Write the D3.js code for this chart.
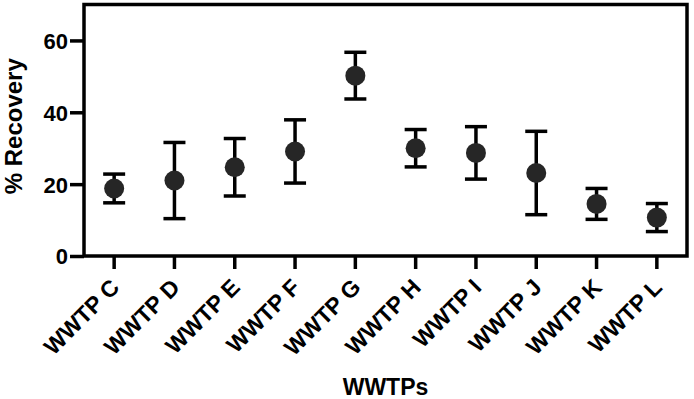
<!DOCTYPE html>
<html>
<head>
<meta charset="utf-8">
<script src="https://cdn.jsdelivr.net/npm/d3@7"></script>
<style>
  body { margin: 0; background: #fff; }
  svg { display: block; font-family: "Liberation Sans", Arial, sans-serif; font-weight: bold; }
</style>
</head>
<body>
<svg width="694" height="399"></svg>
<script>
// данные: станции очистки, среднее и стандартное отклонение (% Recovery)
const plants = ["WWTP C", "WWTP D", "WWTP E", "WWTP F", "WWTP G",
                "WWTP H", "WWTP I", "WWTP J", "WWTP K", "WWTP L"];
const means  = [18.8, 21.0, 24.7, 29.1, 50.2, 30.0, 28.7, 23.1, 14.5, 10.7];
const sds    = [4.0, 10.6, 8.0, 8.8, 6.5, 5.2, 7.3, 11.6, 4.3, 3.9];
const yTicks = [0, 20, 40, 60];

const data = plants.map((p, i) => ({ name: p, mean: means[i], sd: sds[i] }));

const svg = d3.select("svg");

const area = { left: 84, right: 687, top: 4.5, bottom: 256 };

const scX = d3.scaleBand()
    .domain(plants)
    .range([area.left, area.right]);

const scY = d3.scaleLinear()
    .domain([0, 70])
    .range([area.bottom, area.top]);

const stroke = 3.5;
const ink = "#000";

// ось Y
const gy = svg.append("g")
    .attr("transform", `translate(${area.left}, 0)`)
    .call(d3.axisLeft(scY).tickValues(yTicks).tickSize(14).tickPadding(2).tickSizeOuter(0));
gy.select(".domain").remove();
gy.selectAll("line").attr("stroke", ink).attr("stroke-width", stroke);
gy.selectAll("text").attr("fill", ink).style("font-size", "22px").attr("dy", "0.36em");

// ось X
const gx = svg.append("g")
    .attr("transform", `translate(0, ${area.bottom})`)
    .call(d3.axisBottom(scX).tickSize(13).tickSizeOuter(0));
gx.select(".domain").remove();
gx.selectAll("line").attr("stroke", ink).attr("stroke-width", stroke);
gx.selectAll("text")
    .attr("fill", ink)
    .style("font-size", "23px")
    .style("text-anchor", "end")
    .attr("x", 0)
    .attr("y", 0)
    .attr("dy", "0.35em")
    .attr("transform", "translate(1, 27) rotate(-45)");

// рамка графика
svg.append("rect")
    .attr("x", area.left)
    .attr("y", area.top)
    .attr("width", area.right - area.left)
    .attr("height", area.bottom - area.top)
    .attr("fill", "none")
    .attr("stroke", ink)
    .attr("stroke-width", stroke);

// усы (среднее ± SD)
const cx = d => scX(d.name) + scX.bandwidth() / 2;
const capW = 11;

const err = svg.append("g").attr("stroke", ink).attr("stroke-width", stroke);
err.selectAll(".whisker")
    .data(data)
    .enter()
    .append("line")
    .attr("x1", cx).attr("x2", cx)
    .attr("y1", d => scY(d.mean + d.sd))
    .attr("y2", d => scY(d.mean - d.sd));
err.selectAll(".capTop")
    .data(data)
    .enter()
    .append("line")
    .attr("x1", d => cx(d) - capW).attr("x2", d => cx(d) + capW)
    .attr("y1", d => scY(d.mean + d.sd)).attr("y2", d => scY(d.mean + d.sd));
err.selectAll(".capBottom")
    .data(data)
    .enter()
    .append("line")
    .attr("x1", d => cx(d) - capW).attr("x2", d => cx(d) + capW)
    .attr("y1", d => scY(d.mean - d.sd)).attr("y2", d => scY(d.mean - d.sd));

// точки
svg.selectAll(".dot")
    .data(data)
    .enter()
    .append("circle")
    .attr("cx", cx)
    .attr("cy", d => scY(d.mean))
    .attr("r", 10)
    .style("fill", "#262626");

// подписи осей
svg.append("text")
    .attr("transform", `translate(${area.left - 62}, ${(area.top + area.bottom) / 2 - 4}) rotate(-90)`)
    .attr("text-anchor", "middle")
    .style("font-size", "24px")
    .text("% Recovery");

svg.append("text")
    .attr("x", (area.left + area.right) / 2)
    .attr("y", 395)
    .attr("text-anchor", "middle")
    .style("font-size", "23px")
    .text("WWTPs");
</script>
</body>
</html>
